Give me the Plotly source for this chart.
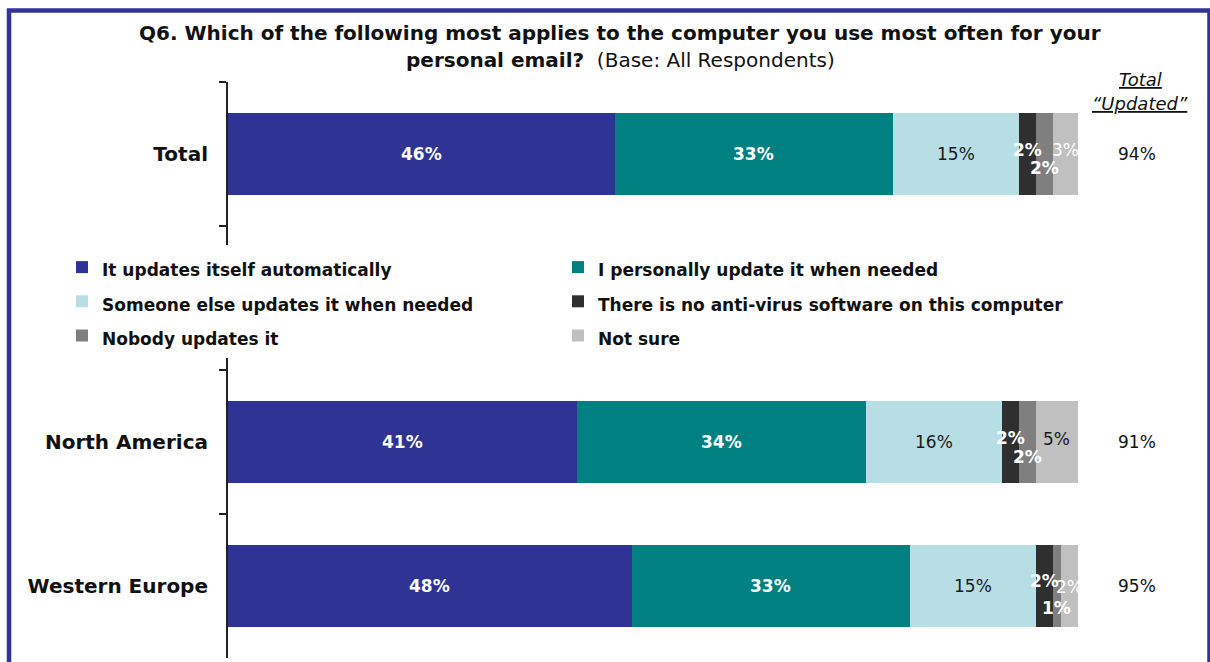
import plotly.graph_objects as go

# Survey results (percent of respondents)
regions = ["Total", "North America", "Western Europe"]
series_names = [
    "It updates itself automatically",
    "I personally update it when needed",
    "Someone else updates it when needed",
    "There is no anti-virus software on this computer",
    "Nobody updates it",
    "Not sure",
]
auto_update = [46, 41, 48]
personal_update = [33, 34, 33]
someone_else = [15, 16, 15]
no_antivirus = [2, 2, 2]
nobody = [2, 2, 1]
not_sure = [3, 5, 2]
total_updated = [94, 91, 95]

series_values = [auto_update, personal_update, someone_else, no_antivirus, nobody, not_sure]

FONT = "DejaVu Sans"
colors = ["#2E3394", "#008080", "#B7DEE4", "#2F2F2F", "#7F7F7F", "#C0C0C0"]
label_colors = [
    ["white", "white", "white"],
    ["white", "white", "white"],
    ["#1A1A1A", "#1A1A1A", "#1A1A1A"],
    ["white", "white", "white"],
    ["white", "white", "white"],
    ["white", "#1A1A1A", "white"],
]
label_bold = [True, True, False, True, True, False]
# vertical nudges (px) for crowded labels on the thin segments, per region
small_shift = {3: [-4, -4, -5], 4: [14, 15, 22], 5: [-4, -3, 1]}

# category slot left empty for the legend block
y_order = ["Total", " ", "North America", "Western Europe"]

W, H = 1210, 662
ML, MR, MT, MB = 228, 132, 82, 4
PW, PH = W - ML - MR, H - MT - MB


def px_x(p):
    return (p - ML) / PW


def px_y(p):
    return 1 - (p - MT) / PH


fig = go.Figure()
for i, (name, vals) in enumerate(zip(series_names, series_values)):
    fig.add_trace(go.Bar(
        y=regions, x=vals, orientation="h", name=name,
        marker=dict(color=colors[i], line=dict(width=0)),
        legend="legend" if i % 2 == 0 else "legend2",
        hoverinfo="skip",
    ))

annotations = []
row_totals = [sum(v[r] for v in series_values) for r in range(len(regions))]
for r, region in enumerate(regions):
    cum = 0
    for i, vals in enumerate(series_values):
        v = vals[r]
        mid = (cum + v / 2) / row_totals[r] * 100
        cum += v
        txt = f"{v}%"
        if label_bold[i]:
            txt = f"<b>{txt}</b>"
        annotations.append(dict(
            x=mid, y=region, xref="x", yref="y", xanchor="center", yanchor="middle",
            text=txt, showarrow=False,
            font=dict(family=FONT, size=17, color=label_colors[i][r]),
            yshift=-small_shift[i][r] if i in small_shift else 0,
        ))
    annotations.append(dict(
        x=px_x(1137), y=region, xref="paper", yref="y", xanchor="center", yanchor="middle",
        text=f"{total_updated[r]}%", showarrow=False,
        font=dict(family=FONT, size=17, color="#111111"),
    ))

head = dict(xref="paper", yref="paper", xanchor="center", yanchor="middle", showarrow=False)
annotations += [
    dict(x=px_x(1140), y=px_y(80), text="<i><u>Total</u></i>",
         font=dict(family=FONT, size=18, color="#111111"), **head),
    dict(x=px_x(1140), y=px_y(103), text="<i><u>“Updated”</u></i>",
         font=dict(family=FONT, size=18, color="#111111"), **head),
    dict(x=px_x(620), y=px_y(33),
         text="<b>Q6. Which of the following most applies to the computer you use most often for your</b>",
         font=dict(family=FONT, size=20, color="#111111"), **head),
    dict(x=px_x(620), y=px_y(60),
         text="<b>personal email?</b>  (Base: All Respondents)",
         font=dict(family=FONT, size=20, color="#111111"), **head),
]

# legend rows are spaced by the legend font size; the visible text is set smaller
for tr in fig.data:
    tr.name = f"<span style='font-size:17px'><b>{tr.name}</b></span>"

legend_style = dict(
    orientation="v", xanchor="left", yanchor="top", bgcolor="white",
    borderwidth=0, font=dict(family=FONT, size=24, color="#111111"),
    traceorder="normal",
)

fig.update_layout(
    width=W, height=H,
    margin=dict(l=ML, r=MR, t=MT, b=MB, autoexpand=False),
    paper_bgcolor="white", plot_bgcolor="white",
    barmode="stack", barnorm="percent", bargap=0.43,
    showlegend=True,
    legend=dict(x=px_x(62), y=px_y(245), **legend_style),
    legend2=dict(x=px_x(558), y=px_y(245), **legend_style),
    xaxis=dict(visible=False, range=[0, 100], fixedrange=True),
    yaxis=dict(
        type="category", categoryorder="array", categoryarray=y_order,
        range=[3.5, -0.5], showline=True, linecolor="#222222", linewidth=2,
        ticks="outside", ticklen=7, tickwidth=2, tickcolor="#222222",
        tickson="boundaries", showgrid=False, zeroline=False,
        tickfont=dict(family=FONT, size=20, color="#111111", weight="bold"),
        ticklabelstandoff=14,
    ),
    annotations=annotations,
    shapes=[dict(
        type="rect", xref="paper", yref="paper",
        x0=px_x(9), x1=px_x(1209.5), y0=px_y(680), y1=px_y(10.5),
        line=dict(color="#31339A", width=4.5), fillcolor="rgba(0,0,0,0)", layer="above",
    )],
)

fig.write_html("out.html")
